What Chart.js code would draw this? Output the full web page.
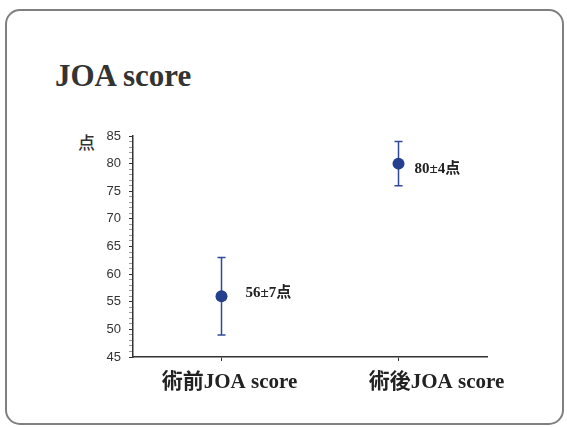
<!DOCTYPE html>
<html>

<head>
  <meta charset="utf-8">
  <script src="https://cdn.jsdelivr.net/npm/chart.js@4/dist/chart.umd.min.js"></script>
  <style>
    body { margin: 0; background: #fff; }
    #wrap { position: relative; width: 567px; height: 427px; overflow: hidden; }
    #frame {
      position: absolute; left: 5px; top: 9px; width: 555px; height: 412px;
      border: 2px solid #808080; border-radius: 15px;
    }
    #title {
      position: absolute; left: 55px; top: 58px;
      font: bold 31px "Liberation Serif", serif; color: #333;
    }
    #unit {
      position: absolute; left: 78px; top: 129px;
      font: 500 17px "Noto Sans CJK JP", sans-serif; color: #333;
    }
    #myChart { position: absolute; left: 0; top: 0; }
  </style>
</head>

<body>
  <div id="wrap">
    <div id="frame"></div>
    <div id="title">JOA score</div>
    <div id="unit">点</div>
    <canvas id="myChart" width="567" height="427"></canvas>
  </div>
  <script type="text/javascript">
    // data
    var categories = ['術前JOA score', '術後JOA score'];
    var means = [56, 80];
    var sds = [7, 4];
    var yTicks = { min: 45, max: 85, major: 5 };

    var navy = '#233f8d';

    // error bars, drawn under the points
    var errorBars = {
      id: 'errorBars',
      beforeDatasetsDraw: function(chart) {
        var ctx = chart.ctx;
        var xs = chart.scales.x, ys = chart.scales.y;
        ctx.save();
        ctx.strokeStyle = '#2f4a9c';
        ctx.lineWidth = 1.5;
        means.forEach(function(m, i) {
          var x = xs.getPixelForValue(i);
          var top = ys.getPixelForValue(m + sds[i]);
          var bot = ys.getPixelForValue(m - sds[i]);
          ctx.beginPath();
          ctx.moveTo(x, top); ctx.lineTo(x, bot);
          ctx.moveTo(x - 4, top); ctx.lineTo(x + 4, top);
          ctx.moveTo(x - 4, bot); ctx.lineTo(x + 4, bot);
          ctx.stroke();
        });
        ctx.restore();
      }
    };

    // "mean±sd点" labels right of each point
    var labelDx = [24, 16];
    var labelDy = [-3, 5];
    var valueLabels = {
      id: 'valueLabels',
      afterDatasetsDraw: function(chart) {
        var ctx = chart.ctx;
        var meta = chart.getDatasetMeta(0);
        ctx.save();
        ctx.fillStyle = '#222';
        ctx.font = 'bold 15px "Liberation Serif", "Noto Sans CJK JP", serif';
        ctx.textAlign = 'left';
        ctx.textBaseline = 'middle';
        meta.data.forEach(function(pt, i) {
          ctx.fillText(means[i] + '±' + sds[i] + '点', pt.x + labelDx[i], pt.y + labelDy[i]);
        });
        ctx.restore();
      }
    };

    // category names under the x axis, nudged right of their tick
    var catDx = [8, 38];
    var categoryLabels = {
      id: 'categoryLabels',
      afterDraw: function(chart) {
        var ctx = chart.ctx;
        var xs = chart.scales.x;
        ctx.save();
        ctx.fillStyle = '#222';
        ctx.font = 'bold 21px "Liberation Serif", "Noto Sans CJK JP", serif';
        ctx.textAlign = 'center';
        ctx.textBaseline = 'middle';
        categories.forEach(function(c, i) {
          ctx.fillText(c, xs.getPixelForValue(i) + catDx[i], xs.top + 26);
        });
        ctx.restore();
      }
    };

    var ctx = document.getElementById('myChart').getContext('2d');
    var chart = new Chart(ctx, {
      type: 'line',
      data: {
        labels: categories,
        datasets: [{
          data: means,
          showLine: false,
          pointRadius: 6,
          pointHoverRadius: 6,
          pointBackgroundColor: navy,
          pointBorderColor: navy,
          pointBorderWidth: 0
        }]
      },
      options: {
        responsive: false,
        animation: false,
        events: [],
        layout: { padding: { top: 136, right: 80, bottom: 10, left: 0 } },
        plugins: { legend: { display: false }, tooltip: { enabled: false } },
        scales: {
          x: {
            offset: true,
            afterFit: function(s) { s.height = 60; },
            border: { color: '#333', width: 1.5 },
            grid: { offset: false, drawOnChartArea: false, drawTicks: true, tickLength: 4, color: '#333' },
            ticks: { display: false }
          },
          y: {
            min: yTicks.min,
            max: yTicks.max,
            afterFit: function(s) { s.width = 133; },
            border: { color: '#333', width: 1.5 },
            grid: {
              drawOnChartArea: false,
              tickLength: 4,
              color: function(c) { return c.tick && c.tick.value % yTicks.major === 0 ? '#333' : '#999'; }
            },
            ticks: {
              stepSize: 1,
              maxTicksLimit: 100,
              autoSkip: false,
              padding: 8,
              color: '#333',
              font: { family: '"Liberation Sans", Arial, sans-serif', size: 13 },
              callback: function(v) { return v % yTicks.major === 0 ? v : ''; }
            }
          }
        }
      },
      plugins: [errorBars, valueLabels, categoryLabels]
    });
  </script>
</body>

</html>
